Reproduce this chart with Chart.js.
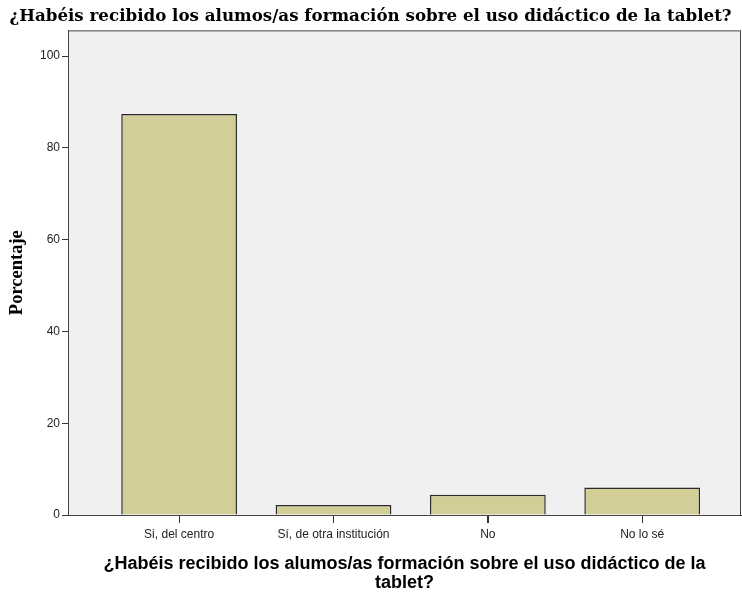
<!DOCTYPE html>
<html>
<head>
<meta charset="utf-8">
<script src="https://cdn.jsdelivr.net/npm/chart.js@4/dist/chart.umd.min.js"></script>
<style>
  html, body { margin: 0; padding: 0; background: #fff; }
  #wrap { width: 742px; height: 592px; }
</style>
</head>
<body>
<div id="wrap"><canvas id="chart"></canvas></div>
<script>
// chart values
const categories = ["Si, del centro", "Sí, de otra institución", "No", "No lo sé"];
const percentages = [87.4, 2.2, 4.4, 6.0];
const xTicks = [0, 1, 2, 3];
const yTicks = [0, 20, 40, 60, 80, 100];
const chartTitle = "¿Habéis recibido los alumos/as formación sobre el uso didáctico de la tablet?";
const xTitle = ["¿Habéis recibido los alumos/as formación sobre el uso didáctico de la", "tablet?"];
const yTitle = "Porcentaje";

// grey plot area with a dark frame, like the SPSS output
const plotFrame = {
  id: "plotFrame",
  beforeDraw(chart) {
    const { ctx, chartArea: a } = chart;
    ctx.save();
    ctx.fillStyle = "#f0f0f0";
    ctx.fillRect(a.left, a.top, a.right - a.left, a.bottom - a.top);
    ctx.restore();
  },
  afterDraw(chart) {
    const { ctx, chartArea: a } = chart;
    const x = chart.scales.x;
    ctx.save();
    ctx.strokeStyle = "#444";
    ctx.lineWidth = 1;
    ctx.strokeRect(a.left + 0.5, a.top + 0.5, a.right - a.left - 1, a.bottom - a.top);
    // category tick marks under the x axis, placed by the x scale
    ctx.strokeStyle = "#333";
    x.ticks.forEach((t, i) => {
      const px = Math.round(x.getPixelForTick(i)) + 0.5;
      ctx.beginPath();
      ctx.moveTo(px, a.bottom);
      ctx.lineTo(px, a.bottom + 8);
      ctx.stroke();
    });
    ctx.restore();
  }
};

const canvas = document.getElementById("chart");

new Chart(canvas, {
  type: "bar",
  data: {
    datasets: [{
      label: yTitle,
      data: categories.map((c, i) => ({ x: i, y: percentages[i] })),
      backgroundColor: "#d3ce97",
      borderColor: "#2a2a2a",
      borderWidth: 1.5,
      categoryPercentage: 1,
      barPercentage: 0.75
    }]
  },
  plugins: [plotFrame],
  options: {
    responsive: true,
    maintainAspectRatio: false,
    animation: false,
    layout: { padding: { left: 0, right: 1, top: 0, bottom: 0 } },
    plugins: {
      legend: { display: false },
      tooltip: { enabled: false },
      title: {
        display: true,
        text: chartTitle,
        color: "#000",
        font: { family: "DejaVu Serif", size: 16.7, weight: "bold", lineHeight: 1.1 },
        padding: { top: 7, bottom: 5 }
      }
    },
    scales: {
      x: {
        type: "linear",
        min: -0.72,
        max: 3.64,
        offset: false,
        grid: { display: true, offset: false, drawOnChartArea: false, drawTicks: true, color: "#333", tickLength: 8 },
        border: { display: true, color: "#333", width: 1 },
        afterBuildTicks: (scale) => { scale.ticks = xTicks.map(v => ({ value: v })); },
        ticks: {
          autoSkip: false,
          maxRotation: 0,
          padding: 4,
          color: "#222",
          font: { family: "Liberation Sans", size: 12 },
          callback: (v) => categories[v] ?? ""
        },
        title: {
          display: true,
          text: xTitle,
          color: "#000",
          font: { family: "Liberation Sans", size: 18, weight: "bold", lineHeight: 1.05 },
          padding: { top: 2, bottom: 0 }
        },
        afterFit: (scale) => { scale.height = 77; }
      },
      y: {
        min: 0,
        max: 105.6,
        grid: { display: true, drawOnChartArea: false, color: "#333", tickLength: 6 },
        border: { display: true, color: "#333", width: 1 },
        afterBuildTicks: (scale) => { scale.ticks = yTicks.map(v => ({ value: v })); },
        ticks: {
          padding: 2,
          color: "#222",
          font: { family: "Liberation Sans", size: 12 }
        },
        title: {
          display: true,
          text: yTitle,
          color: "#000",
          font: { family: "Liberation Serif", size: 18.5, weight: "bold" },
          padding: { top: 6, bottom: 0 }
        },
        afterFit: (scale) => { scale.width = 68; }
      }
    }
  }
});
</script>
</body>
</html>
